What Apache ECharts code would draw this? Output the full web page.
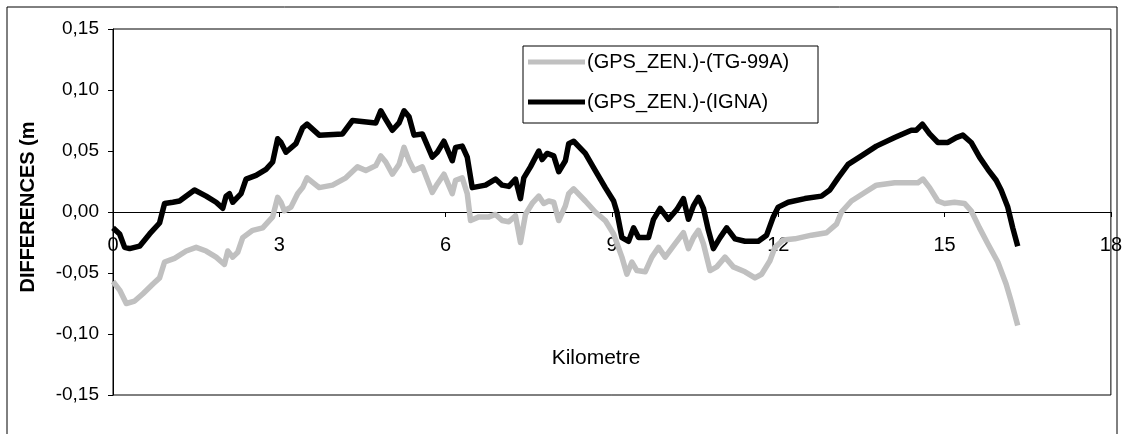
<!DOCTYPE html>
<html>
<head>
<meta charset="utf-8">
<script src="https://cdn.jsdelivr.net/npm/echarts@6/dist/echarts.min.js"></script>
<style>
html,body{margin:0;padding:0;background:#fff;}
#c{width:1125px;height:434px;}
</style>
</head>
<body>
<div id="c"></div>
<script>
// ---- data (km, metres) ----
const seriesNames = ['(GPS_ZEN.)-(TG-99A)', '(GPS_ZEN.)-(IGNA)'];
const xTicks = [0, 3, 6, 9, 12, 15, 18];
const yTicks = [-0.15, -0.10, -0.05, 0.00, 0.05, 0.10, 0.15];

const kmTG = [0.00,0.12,0.24,0.39,0.54,0.72,0.84,0.93,1.11,1.32,1.50,1.68,1.86,2.01,2.07,2.16,2.25,2.34,2.52,2.70,2.88,2.97,3.03,3.09,3.21,3.33,3.42,3.50,3.72,3.96,4.20,4.41,4.56,4.74,4.83,4.92,5.04,5.16,5.25,5.34,5.43,5.58,5.76,5.85,5.97,6.12,6.18,6.30,6.39,6.45,6.60,6.78,6.90,7.02,7.14,7.26,7.35,7.44,7.56,7.68,7.77,7.86,7.95,8.04,8.16,8.22,8.31,8.52,8.70,8.88,9.03,9.18,9.27,9.36,9.45,9.60,9.72,9.84,9.96,10.14,10.29,10.38,10.47,10.56,10.65,10.77,10.89,11.04,11.19,11.40,11.58,11.70,11.85,11.94,12.09,12.30,12.60,12.87,13.05,13.14,13.32,13.56,13.77,14.10,14.52,14.61,14.73,14.88,15.00,15.18,15.36,15.48,15.63,15.78,15.96,16.11,16.20,16.32];
const valTG = [-0.057,-0.064,-0.075,-0.073,-0.067,-0.059,-0.054,-0.041,-0.038,-0.032,-0.029,-0.032,-0.037,-0.043,-0.032,-0.037,-0.033,-0.021,-0.015,-0.013,-0.004,0.012,0.008,0.001,0.004,0.015,0.020,0.028,0.020,0.022,0.028,0.037,0.034,0.038,0.046,0.041,0.031,0.039,0.053,0.042,0.034,0.037,0.016,0.023,0.031,0.015,0.026,0.028,0.015,-0.007,-0.004,-0.004,-0.002,-0.007,-0.008,-0.003,-0.025,-0.002,0.007,0.013,0.007,0.009,0.008,-0.007,0.005,0.015,0.019,0.009,0.000,-0.007,-0.018,-0.037,-0.051,-0.041,-0.048,-0.049,-0.037,-0.029,-0.037,-0.026,-0.017,-0.030,-0.021,-0.015,-0.026,-0.048,-0.045,-0.037,-0.045,-0.049,-0.054,-0.051,-0.040,-0.029,-0.023,-0.022,-0.019,-0.017,-0.010,0.000,0.009,0.016,0.022,0.024,0.024,0.027,0.020,0.009,0.007,0.008,0.007,0.001,-0.013,-0.026,-0.041,-0.059,-0.073,-0.093];

const kmIGNA = [0.00,0.12,0.21,0.30,0.48,0.66,0.84,0.93,1.08,1.20,1.47,1.68,1.86,1.98,2.04,2.10,2.16,2.31,2.40,2.58,2.76,2.88,2.97,3.03,3.12,3.30,3.42,3.50,3.72,4.14,4.32,4.74,4.83,4.92,5.04,5.16,5.25,5.34,5.43,5.58,5.76,5.85,5.97,6.12,6.18,6.30,6.39,6.48,6.72,6.90,7.02,7.14,7.26,7.35,7.41,7.53,7.68,7.74,7.83,7.95,8.04,8.16,8.22,8.31,8.52,8.70,8.88,9.03,9.09,9.18,9.30,9.39,9.48,9.66,9.75,9.87,10.02,10.17,10.29,10.38,10.47,10.56,10.65,10.74,10.83,10.95,11.07,11.22,11.40,11.64,11.79,11.91,12.00,12.18,12.48,12.78,12.93,13.08,13.26,13.50,13.77,14.10,14.40,14.49,14.60,14.73,14.88,15.06,15.21,15.33,15.48,15.63,15.78,15.93,16.02,16.14,16.23,16.32];
const valIGNA = [-0.013,-0.018,-0.029,-0.030,-0.028,-0.018,-0.009,0.007,0.008,0.009,0.018,0.013,0.008,0.003,0.013,0.015,0.008,0.015,0.027,0.030,0.035,0.041,0.060,0.057,0.049,0.056,0.069,0.072,0.063,0.064,0.075,0.073,0.083,0.076,0.067,0.073,0.083,0.078,0.063,0.064,0.045,0.049,0.058,0.042,0.053,0.054,0.045,0.020,0.022,0.027,0.022,0.021,0.027,0.011,0.028,0.037,0.050,0.043,0.048,0.046,0.033,0.042,0.056,0.058,0.048,0.034,0.020,0.009,0.000,-0.021,-0.024,-0.013,-0.021,-0.021,-0.006,0.003,-0.006,0.002,0.011,-0.006,0.005,0.012,0.003,-0.015,-0.030,-0.021,-0.013,-0.022,-0.024,-0.024,-0.019,-0.004,0.004,0.008,0.011,0.013,0.018,0.028,0.039,0.046,0.054,0.061,0.067,0.067,0.072,0.064,0.057,0.057,0.061,0.063,0.057,0.045,0.035,0.026,0.018,0.004,-0.013,-0.028];

const pairs = (xs, ys) => xs.map((x, i) => [x, ys[i]]);

const chart = echarts.init(document.getElementById('c'), null, {renderer: 'canvas'});
const FONT = 'Liberation Sans, Arial, sans-serif';
const GRID_TOP = 29, GRID_H = 366;
// distance from grid bottom up to the y = 0 line
const zeroOffset = GRID_H * (0 - yTicks[0]) / (yTicks[yTicks.length - 1] - yTicks[0]);

chart.setOption({
  animation: false,
  backgroundColor: '#ffffff',
  grid: {
    left: 113, top: GRID_TOP, width: 1000, height: GRID_H,
    show: true, borderColor: '#000', borderWidth: 1, backgroundColor: '#fff'
  },
  xAxis: {
    type: 'value', min: xTicks[0], max: xTicks[xTicks.length - 1], interval: 3,
    position: 'bottom', offset: -zeroOffset,
    axisLine: {show: true, onZero: false, lineStyle: {color: '#000', width: 1}},
    axisTick: {show: true, inside: false, length: 5, lineStyle: {color: '#000'}},
    splitLine: {show: false},
    axisLabel: {
      show: true, margin: 23, color: '#000', fontFamily: FONT, fontSize: 20,
      showMinLabel: true, showMaxLabel: true,
      formatter: v => xTicks.includes(v) ? String(v) : ''
    }
  },
  yAxis: {
    type: 'value', min: yTicks[0], max: yTicks[yTicks.length - 1], interval: 0.05,
    axisLine: {show: true, onZero: false, lineStyle: {color: '#000', width: 1}},
    axisTick: {show: true, inside: false, length: 5, lineStyle: {color: '#000'}},
    splitLine: {show: false},
    axisLabel: {
      margin: 14, color: '#000', fontFamily: FONT, fontSize: 19,
      formatter: v => (Math.round(v * 100) / 100).toFixed(2).replace('.', ',')
    }
  },
  legend: {
    show: true, orient: 'vertical', left: 528, top: 52, padding: 0,
    itemGap: 20, itemWidth: 57, itemHeight: 5, icon: 'rect',
    textStyle: {color: '#000', fontFamily: FONT, fontSize: 20, padding: [0,0,0,-3]},
    data: seriesNames
  },
  series: [
    {
      name: seriesNames[0], type: 'line', data: pairs(kmTG, valTG),
      showSymbol: false, symbol: 'none', color: '#c0c0c0',
      lineStyle: {color: '#c0c0c0', width: 5.5, join: 'round'}, z: 2
    },
    {
      name: seriesNames[1], type: 'line', data: pairs(kmIGNA, valIGNA),
      showSymbol: false, symbol: 'none', color: '#000000',
      lineStyle: {color: '#000000', width: 5.5, join: 'round'}, z: 3
    }
  ],
  graphic: [
    {type: 'rect', shape: {x: 7, y: 7, width: 1110, height: 460},
     style: {fill: 'none', stroke: '#000', lineWidth: 1}, silent: true, z: 100},
    {type: 'rect', shape: {x: 523, y: 46, width: 295, height: 77},
     style: {fill: 'none', stroke: '#000', lineWidth: 1}, silent: true, z: 100},
    {type: 'text', x: 596, y: 358,
     style: {text: 'Kilometre', fill: '#000', font: '21px ' + FONT, textAlign: 'center', textVerticalAlign: 'middle'}, z: 100},
    {type: 'text', x: 28, y: 207, rotation: Math.PI / 2,
     style: {text: 'DIFFERENCES (m', fill: '#000', font: 'bold 20px ' + FONT, textAlign: 'center', textVerticalAlign: 'middle'}, z: 100}
  ]
});
</script>
</body>
</html>
